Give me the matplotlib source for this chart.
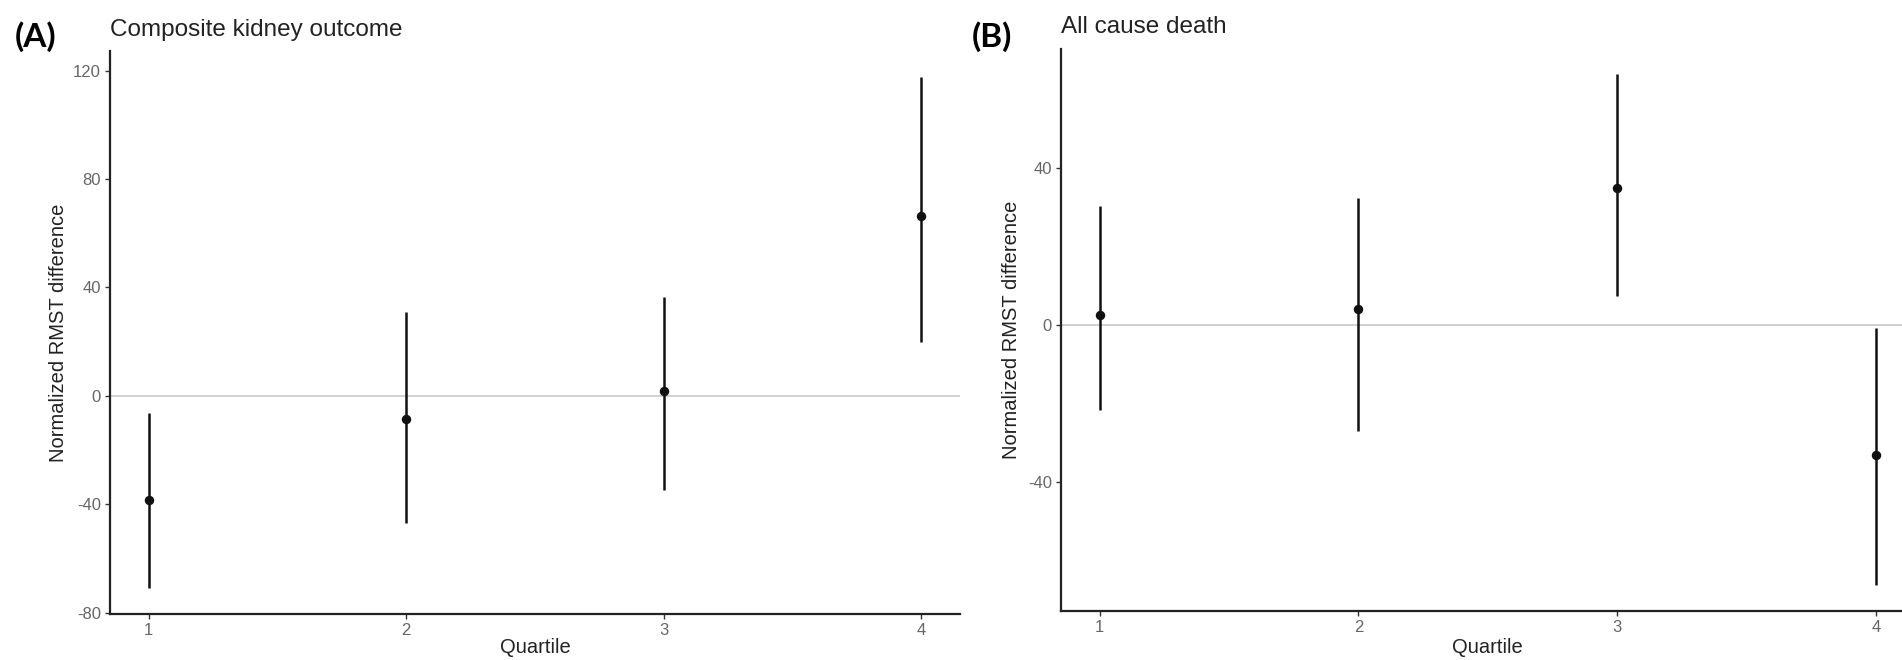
import matplotlib
matplotlib.use('Agg')
import matplotlib.pyplot as plt
from matplotlib.ticker import MultipleLocator

plt.rcParams['font.family'] = ['Liberation Sans', 'DejaVu Sans']
plt.rcParams['axes.unicode_minus'] = False

# data
quartiles = [1, 2, 3, 4]

kidney_est = [-38.4, -8.4, 1.7, 66.3]
kidney_lo = [-71.1, -47.0, -34.8, 19.8]
kidney_hi = [-6.4, 30.8, 36.5, 117.8]

death_est = [2.6, 4.0, 34.9, -33.2]
death_lo = [-21.8, -27.1, 7.3, -66.5]
death_hi = [30.3, 32.3, 64.0, -0.8]

titles = ['Composite kidney outcome', 'All cause death']
panel_tags = ['(A)', '(B)']


def draw_panel(ax, est, lo, hi, title):
    ax.axhline(0, color='#c4c4c4', lw=1.1, zorder=1)
    err = [[e - l for e, l in zip(est, lo)], [h - e for h, e in zip(hi, est)]]
    ax.errorbar(quartiles, est, yerr=err, fmt='o', color='#111111',
                ms=5.8, elinewidth=1.8, capsize=0, zorder=3)
    ax.margins(x=0.05, y=0.05)
    ax.set_xticks(quartiles)
    ax.yaxis.set_major_locator(MultipleLocator(40))
    for s in ['top', 'right']:
        ax.spines[s].set_visible(False)
    for s in ['left', 'bottom']:
        ax.spines[s].set_linewidth(1.6)
        ax.spines[s].set_color('#222222')
    ax.tick_params(axis='both', length=3.6, width=1.0, color='#333333',
                   labelsize=12, labelcolor='#666666', pad=3)
    ax.set_xlabel('Quartile', fontsize=14.5, color='#222222')
    ax.set_ylabel('Normalized RMST difference', fontsize=14.5, color='#222222')
    ax.xaxis.label.set_va('center')
    ax.yaxis.label.set_va('center')
    ax.set_title(title, loc='left', fontsize=17.5, color='#222222', pad=11)


fig = plt.figure(figsize=(19.02, 6.6), dpi=100)

axA = fig.add_axes([0.0578, 0.0697, 0.4469, 0.853])
draw_panel(axA, kidney_est, kidney_lo, kidney_hi, titles[0])
axA.xaxis.set_label_coords(0.5, -0.06)
axA.yaxis.set_label_coords(-0.061, 0.5)

axB = fig.add_axes([0.5578, 0.0742, 0.4488, 0.852])
draw_panel(axB, death_est, death_lo, death_hi, titles[1])
axB.xaxis.set_label_coords(0.5, -0.065)
axB.yaxis.set_label_coords(-0.058, 0.5)

fig.text(0.0075, 0.944, panel_tags[0], fontsize=24, fontweight='bold',
         family=['Lato', 'DejaVu Sans'], va='center', ha='left')
fig.text(0.511, 0.944, panel_tags[1], fontsize=24, fontweight='bold',
         family=['Lato', 'DejaVu Sans'], va='center', ha='left')

fig.savefig('out.png', dpi=100, facecolor='white')
